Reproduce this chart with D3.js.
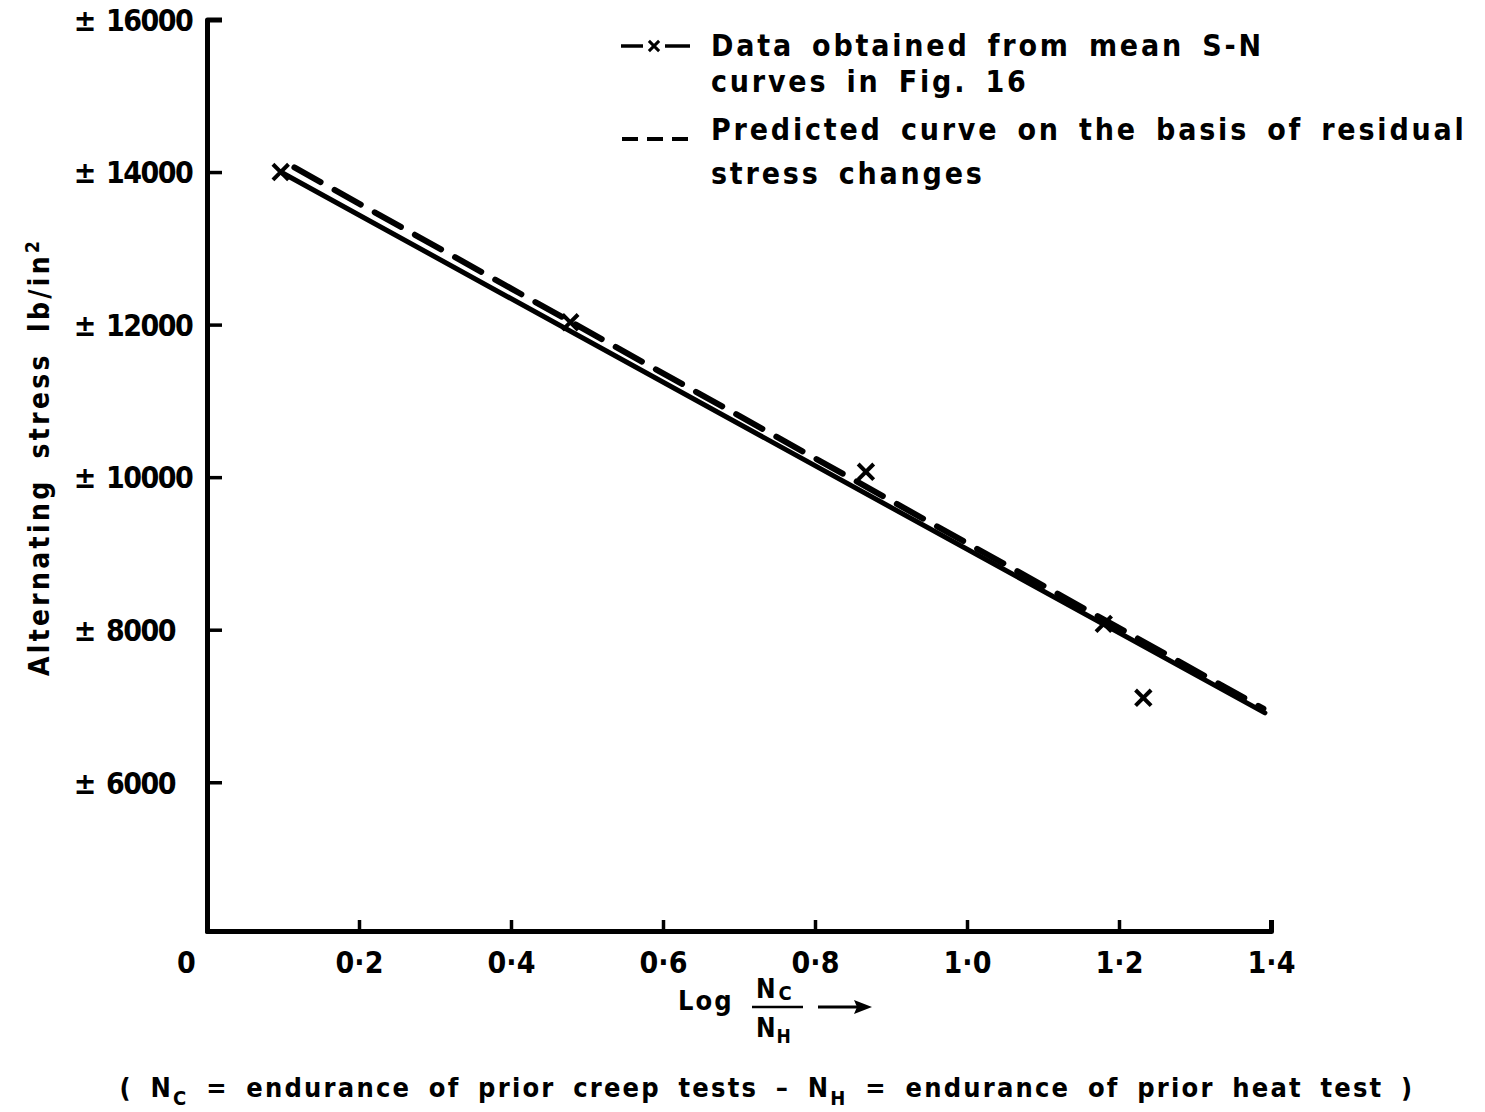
<!DOCTYPE html>
<html>
<head>
<meta charset="utf-8">
<script src="https://cdn.jsdelivr.net/npm/d3@7"></script>
<style>
  html, body { margin: 0; padding: 0; background: #fff; }
  svg { display: block; }
  text { font-family: "DejaVu Sans Condensed", "DejaVu Sans", sans-serif; font-weight: bold; fill: #000; }
</style>
</head>
<body>
<svg id="chart" width="1485" height="1112"></svg>
<script>
// ---- data ----
const xTicks = [0, 0.2, 0.4, 0.6, 0.8, 1.0, 1.2, 1.4];
const xTickLabels = ["0", "0·2", "0·4", "0·6", "0·8", "1·0", "1·2", "1·4"];
const yTicks = [6000, 8000, 10000, 12000, 14000, 16000];
const yTickLabels = ["6000", "8000", "10000", "12000", "14000", "16000"];

// measured points (x marks) from mean S-N curves
const dataX = [0.097, 0.478, 0.867, 1.180, 1.232];
const dataY = [14000, 12030, 10070, 8077, 7107];

// solid line through data
const solidX = [0.097, 1.392];
const solidY = [14000, 6910];

// dashed predicted curve
const predX = [0.115, 1.390];
const predY = [14060, 6965];

const legendLabels = [
  ["Data obtained from mean S-N", "curves in Fig. 16"],
  ["Predicted curve on the basis of residual", "stress changes"]
];

// ---- drawing ----
const svg = d3.select("#chart");
const x = d3.scaleLinear().domain([0, 1.4]).range([207, 1271]);
const y = d3.scaleLinear().domain([4050, 16000]).range([931, 19.5]);

// y axis (ticks pointing inward / right)
const yAxis = d3.axisRight(y).tickValues(yTicks).tickSize(15).tickSizeOuter(15).tickFormat(() => "");
const gy = svg.append("g").attr("transform", `translate(${x(0)},0)`).call(yAxis);
gy.select(".domain").attr("stroke", "#000").attr("stroke-width", 5).attr("fill", "none").attr("stroke-linejoin", "round");
gy.selectAll(".tick line").attr("stroke", "#000").attr("stroke-width", 3.5);
gy.selectAll(".tick").each(function(d, i) {
  const g = d3.select(this);
  g.append("text").attr("x", -122).attr("y", 0).attr("dy", "0.36em")
    .attr("text-anchor", "middle").style("font-size", "30px").text("±");
  g.append("text").attr("x", -101).attr("y", 0).attr("dy", "0.36em")
    .attr("text-anchor", "start").style("font-size", "30px").style("letter-spacing", "-1.5px")
    .text(yTickLabels[i]);
});

// x axis (ticks pointing up)
const xAxis = d3.axisTop(x).tickValues(xTicks).tickSize(11).tickSizeOuter(11).tickFormat(() => "");
const gx = svg.append("g").attr("transform", `translate(0,${y(4050)})`).call(xAxis);
gx.select(".domain").attr("stroke", "#000").attr("stroke-width", 5).attr("fill", "none").attr("stroke-linejoin", "round");
gx.selectAll(".tick line").attr("stroke", "#000").attr("stroke-width", 3.5);
gx.selectAll(".tick").each(function(d, i) {
  d3.select(this).append("text")
    .attr("x", i === 0 ? -21 : 0).attr("y", 31).attr("dy", "0.36em")
    .attr("text-anchor", "middle").style("font-size", "30px")
    .text(xTickLabels[i]);
});

// lines
const line = d3.line().x(d => x(d[0])).y(d => y(d[1]));
svg.append("path").datum(d3.zip(solidX, solidY)).attr("d", line)
  .attr("fill", "none").attr("stroke", "#000").attr("stroke-width", 5).attr("stroke-linecap", "round");
svg.append("path").datum(d3.zip(predX, predY)).attr("d", line)
  .attr("fill", "none").attr("stroke", "#000").attr("stroke-width", 6).attr("stroke-linecap", "round")
  .attr("stroke-dasharray", "30 16");

// x marks
const cross = d3.symbol().type(d3.symbolX).size(160);
svg.selectAll(".pt").data(d3.zip(dataX, dataY)).join("path").attr("class", "pt")
  .attr("transform", d => `translate(${x(d[0])},${y(d[1])})`)
  .attr("d", cross).attr("fill", "none").attr("stroke", "#000").attr("stroke-width", 4);

// legend
const lg = svg.append("g");
lg.append("line").attr("x1", 621).attr("x2", 690).attr("y1", 46).attr("y2", 46)
  .attr("stroke", "#000").attr("stroke-width", 3.5);
lg.append("rect").attr("x", 643).attr("y", 37).attr("width", 22).attr("height", 18).attr("fill", "#fff");
lg.append("path").attr("transform", "translate(654,46)").attr("d", d3.symbol().type(d3.symbolX).size(70))
  .attr("fill", "none").attr("stroke", "#000").attr("stroke-width", 3);
lg.append("line").attr("x1", 622).attr("x2", 688).attr("y1", 139).attr("y2", 139)
  .attr("stroke", "#000").attr("stroke-width", 4).attr("stroke-dasharray", "16 9");
const legY = [[56, 92], [140, 184]];
legendLabels.forEach((lines, i) => {
  lines.forEach((t, j) => {
    lg.append("text").attr("x", 711).attr("y", legY[i][j])
      .style("font-size", "30px").style("letter-spacing", "2.8px").style("word-spacing", "6px")
      .text(t);
  });
});

// y axis title
const yt = svg.append("text").attr("transform", "translate(49,457) rotate(-90)")
  .attr("text-anchor", "middle").style("font-size", "28px").style("letter-spacing", "3.3px").style("word-spacing", "8px");
yt.append("tspan").text("Alternating stress lb/in");
yt.append("tspan").attr("dy", -10).style("font-size", "19px").text("2");

// x axis title
const xt = svg.append("g");
xt.append("text").attr("x", 678).attr("y", 1010).style("font-size", "27px").style("letter-spacing", "2px").text("Log");
const num = xt.append("text").attr("x", 756).attr("y", 998).style("font-size", "26px");
num.append("tspan").text("N");
num.append("tspan").attr("dx", 3).attr("dy", 2).style("font-size", "20px").text("C");
xt.append("line").attr("x1", 752).attr("x2", 803).attr("y1", 1007).attr("y2", 1007).attr("stroke", "#000").attr("stroke-width", 2.5);
const den = xt.append("text").attr("x", 756).attr("y", 1037).style("font-size", "26px");
den.append("tspan").text("N");
den.append("tspan").attr("dx", 1).attr("dy", 6).style("font-size", "19px").text("H");
xt.append("line").attr("x1", 818).attr("x2", 858).attr("y1", 1007).attr("y2", 1007).attr("stroke", "#000").attr("stroke-width", 3);
xt.append("path").attr("d", "M872,1007 L854,1000 L857,1007 L854,1014 Z").attr("fill", "#000");

// footnote
const fn = svg.append("text").attr("x", 767).attr("y", 1097).attr("text-anchor", "middle")
  .style("font-size", "27px").style("letter-spacing", "2.2px").style("word-spacing", "7px");
fn.append("tspan").text("( N");
fn.append("tspan").attr("dy", 8).style("font-size", "20px").text("C");
fn.append("tspan").attr("dy", -8).text(" = endurance of prior creep tests – N");
fn.append("tspan").attr("dy", 8).style("font-size", "20px").text("H");
fn.append("tspan").attr("dy", -8).text(" = endurance of prior heat test )");
</script>
</body>
</html>
